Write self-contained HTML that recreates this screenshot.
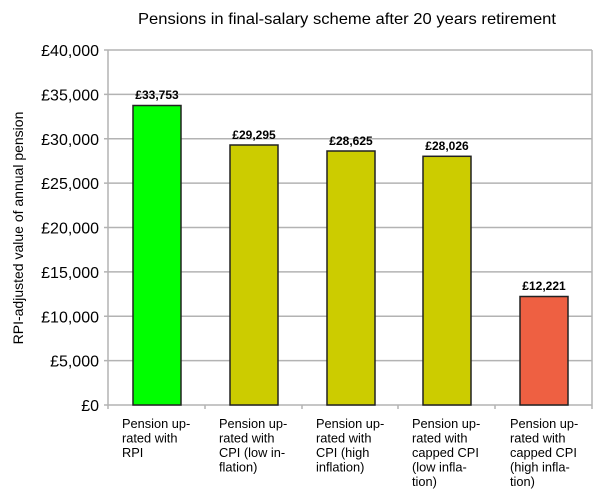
<!DOCTYPE html>
<html><head><meta charset="utf-8"><style>
body{margin:0;background:#fff;}
svg text{font-family:"Liberation Sans",sans-serif;}
</style></head><body>
<svg width="606" height="491" xmlns="http://www.w3.org/2000/svg">
<rect width="606" height="491" fill="#fff"/>
<text x="347" y="24" font-size="16" text-anchor="middle" fill="#000" textLength="418" lengthAdjust="spacingAndGlyphs">Pensions in final-salary scheme after 20 years retirement</text>
<g stroke="#b3b3b3" stroke-width="1.5" fill="none">
<line x1="104" y1="50" x2="592" y2="50"/>
<line x1="104" y1="94.4" x2="592" y2="94.4"/>
<line x1="104" y1="138.8" x2="592" y2="138.8"/>
<line x1="104" y1="183.1" x2="592" y2="183.1"/>
<line x1="104" y1="227.5" x2="592" y2="227.5"/>
<line x1="104" y1="271.9" x2="592" y2="271.9"/>
<line x1="104" y1="316.3" x2="592" y2="316.3"/>
<line x1="104" y1="360.6" x2="592" y2="360.6"/>
<line x1="104" y1="405" x2="592" y2="405"/>
<line x1="108" y1="50" x2="108" y2="409"/>
<line x1="592" y1="50" x2="592" y2="409"/>
<line x1="205" y1="405" x2="205" y2="409"/>
<line x1="302" y1="405" x2="302" y2="409"/>
<line x1="398" y1="405" x2="398" y2="409"/>
<line x1="495" y1="405" x2="495" y2="409"/>
</g>
<g font-size="16" text-anchor="end" fill="#000">
<text x="99" y="56">£40,000</text>
<text x="99" y="100.4">£35,000</text>
<text x="99" y="144.8">£30,000</text>
<text x="99" y="189.1">£25,000</text>
<text x="99" y="233.5">£20,000</text>
<text x="99" y="277.9">£15,000</text>
<text x="99" y="322.3">£10,000</text>
<text x="99" y="366.6">£5,000</text>
<text x="99" y="411">£0</text>
</g>
<text transform="translate(23,228) rotate(-90)" font-size="14" text-anchor="middle">RPI-adjusted value of annual pension</text>
<g stroke="#222" stroke-width="1.5">
<rect x="133" y="105.5" width="48" height="299.5" fill="#00ff00"/>
<rect x="230" y="145" width="48" height="260" fill="#cccc00"/>
<rect x="327" y="151" width="48" height="254" fill="#cccc00"/>
<rect x="423" y="156.3" width="48" height="248.7" fill="#cccc00"/>
<rect x="520" y="296.5" width="48" height="108.5" fill="#ee6042"/>
</g>
<g font-size="12" font-weight="bold" text-anchor="middle">
<text x="157" y="99">£33,753</text>
<text x="254" y="139">£29,295</text>
<text x="351" y="145">£28,625</text>
<text x="447" y="150">£28,026</text>
<text x="544" y="290">£12,221</text>
</g>
<g font-size="12.8" fill="#000">
<text x="122" y="428"><tspan x="122">Pension up-</tspan><tspan x="122" dy="14.5">rated with</tspan><tspan x="122" dy="14.5">RPI</tspan></text>
<text x="219" y="428"><tspan x="219">Pension up-</tspan><tspan x="219" dy="14.5">rated with</tspan><tspan x="219" dy="14.5">CPI (low in-</tspan><tspan x="219" dy="14.5">flation)</tspan></text>
<text x="316" y="428"><tspan x="316">Pension up-</tspan><tspan x="316" dy="14.5">rated with</tspan><tspan x="316" dy="14.5">CPI (high</tspan><tspan x="316" dy="14.5">inflation)</tspan></text>
<text x="412" y="428"><tspan x="412">Pension up-</tspan><tspan x="412" dy="14.5">rated with</tspan><tspan x="412" dy="14.5">capped CPI</tspan><tspan x="412" dy="14.5">(low infla-</tspan><tspan x="412" dy="14.5">tion)</tspan></text>
<text x="510" y="428"><tspan x="510">Pension up-</tspan><tspan x="510" dy="14.5">rated with</tspan><tspan x="510" dy="14.5">capped CPI</tspan><tspan x="510" dy="14.5">(high infla-</tspan><tspan x="510" dy="14.5">tion)</tspan></text>
</g>
</svg>
</body></html>
